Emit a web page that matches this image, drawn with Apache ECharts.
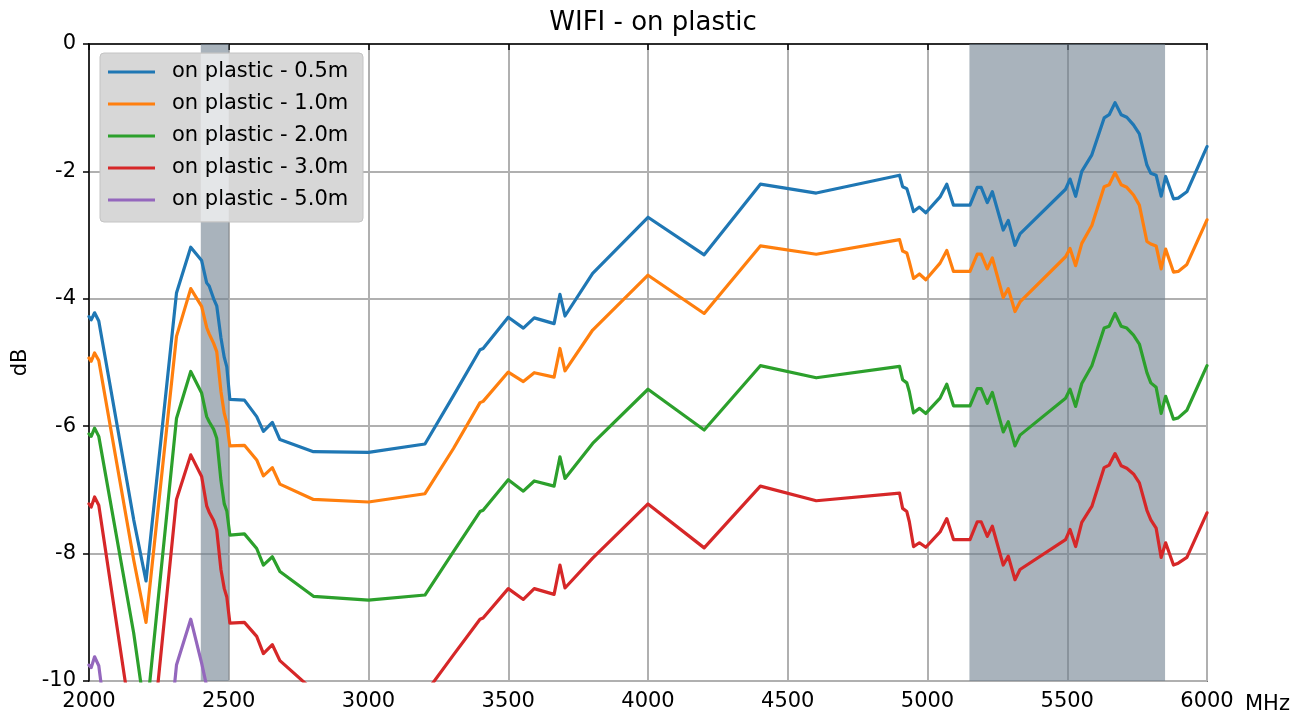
<!DOCTYPE html>
<html>
<head>
<meta charset="utf-8">
<script src="https://cdn.jsdelivr.net/npm/echarts@6/dist/echarts.min.js"></script>
<style>
html,body{margin:0;padding:0;background:#fff;}
#chart{width:1305px;height:720px;}
</style>
</head>
<body>
<div id="chart"></div>
<script>
const titleText = 'WIFI - on plastic';
const xUnit = 'MHz';
const seriesNames = ['on plastic - 0.5m','on plastic - 1.0m','on plastic - 2.0m','on plastic - 3.0m','on plastic - 5.0m'];
const seriesColors = ['#1f77b4','#ff7f0e','#2ca02c','#d62728','#9467bd'];
const bands = [[2400, 2500], [5150, 5850]];
const xTicks = [2000, 2500, 3000, 3500, 4000, 4500, 5000, 5500, 6000];

const freq = [2000, 2008, 2020, 2035, 2160, 2204, 2313, 2364, 2403, 2421,
  2430, 2446, 2457, 2472, 2484, 2493, 2504, 2556, 2600, 2624,
  2656, 2683, 2803, 3000, 3202, 3304, 3399, 3410, 3500, 3554,
  3593, 3664, 3685, 3703, 3802, 4000, 4201, 4402, 4602, 4900,
  4911, 4926, 4935, 4950, 4971, 4994, 5045, 5069, 5093, 5152,
  5178, 5192, 5214, 5232, 5271, 5289, 5313, 5331, 5494, 5510,
  5530, 5552, 5588, 5632, 5650, 5671, 5693, 5713, 5737, 5758,
  5785, 5799, 5818, 5836, 5852, 5880, 5897, 5928, 6000];

const d05 = [-4.28, -4.33, -4.22, -4.35, -7.47, -8.43, -3.91, -3.19, -3.40, -3.75,
  -3.80, -4.00, -4.11, -4.61, -4.92, -5.07, -5.58, -5.59, -5.85, -6.08,
  -5.94, -6.21, -6.40, -6.41, -6.28, -5.52, -4.80, -4.78, -4.29, -4.46,
  -4.30, -4.39, -3.93, -4.27, -3.60, -2.72, -3.31, -2.20, -2.34, -2.06,
  -2.24, -2.27, -2.40, -2.63, -2.56, -2.65, -2.40, -2.20, -2.53, -2.53,
  -2.25, -2.25, -2.49, -2.32, -2.92, -2.77, -3.16, -2.98, -2.28, -2.12,
  -2.39, -2.00, -1.74, -1.16, -1.11, -0.92, -1.11, -1.15, -1.27, -1.41,
  -1.90, -2.03, -2.06, -2.39, -2.08, -2.43, -2.42, -2.32, -1.61];

const d10 = [-4.93, -4.98, -4.85, -4.97, -8.10, -9.08, -4.59, -3.84, -4.12, -4.45,
  -4.55, -4.70, -4.83, -5.45, -5.80, -5.95, -6.31, -6.30, -6.53, -6.78,
  -6.65, -6.91, -7.15, -7.19, -7.06, -6.35, -5.63, -5.61, -5.15, -5.30,
  -5.16, -5.23, -4.78, -5.13, -4.49, -3.63, -4.23, -3.17, -3.30, -3.07,
  -3.25, -3.28, -3.42, -3.68, -3.61, -3.70, -3.44, -3.24, -3.57, -3.57,
  -3.30, -3.30, -3.53, -3.36, -3.98, -3.84, -4.20, -4.05, -3.34, -3.21,
  -3.48, -3.13, -2.85, -2.24, -2.21, -2.02, -2.21, -2.25, -2.37, -2.53,
  -3.10, -3.14, -3.17, -3.53, -3.22, -3.58, -3.57, -3.46, -2.76];

const d20 = [-6.12, -6.16, -6.03, -6.16, -9.25, -10.6, -5.88, -5.14, -5.48, -5.85,
  -5.93, -6.05, -6.19, -6.85, -7.22, -7.33, -7.71, -7.69, -7.92, -8.18,
  -8.05, -8.28, -8.67, -8.73, -8.65, -7.97, -7.34, -7.32, -6.84, -7.02,
  -6.86, -6.94, -6.48, -6.82, -6.27, -5.42, -6.06, -5.05, -5.24, -5.06,
  -5.27, -5.32, -5.46, -5.79, -5.72, -5.80, -5.56, -5.34, -5.68, -5.68,
  -5.41, -5.41, -5.64, -5.47, -6.09, -5.93, -6.31, -6.14, -5.56, -5.42,
  -5.69, -5.33, -5.05, -4.46, -4.43, -4.23, -4.43, -4.46, -4.57, -4.71,
  -5.16, -5.32, -5.39, -5.80, -5.53, -5.89, -5.87, -5.75, -5.05];

const d30 = [-7.22, -7.27, -7.11, -7.24, -10.9, -11.9, -7.15, -6.45, -6.79, -7.25,
  -7.35, -7.48, -7.63, -8.25, -8.55, -8.68, -9.09, -9.08, -9.30, -9.57,
  -9.43, -9.68, -10.15, -10.27, -10.2, -9.59, -9.03, -9.01, -8.55, -8.72,
  -8.55, -8.64, -8.18, -8.54, -8.07, -7.22, -7.91, -6.94, -7.17, -7.05,
  -7.29, -7.34, -7.50, -7.89, -7.83, -7.90, -7.66, -7.45, -7.78, -7.78,
  -7.50, -7.50, -7.73, -7.57, -8.18, -8.04, -8.41, -8.25, -7.78, -7.62,
  -7.89, -7.51, -7.26, -6.65, -6.61, -6.43, -6.62, -6.66, -6.75, -6.89,
  -7.32, -7.47, -7.60, -8.06, -7.83, -8.18, -8.15, -8.06, -7.36];

const d50 = [-9.75, -9.79, -9.62, -9.76, -14.0, -14.6, -9.75, -9.03, -9.72, -10.08,
  -10.25, -10.4, -10.5, -11.1, -11.5, -11.6, -12.0];

const allData = [d05, d10, d20, d30, d50];

const chart = echarts.init(document.getElementById('chart'), null, {renderer: 'canvas'});
const FONT = 'DejaVu Sans';

const series = allData.map((vals, si) => ({
  name: seriesNames[si],
  type: 'line',
  data: vals.map((v, i) => [freq[i], v]),
  showSymbol: false,
  symbol: 'none',
  clip: true,
  lineStyle: {width: 3.2, color: seriesColors[si], join: 'round', cap: 'round'},
  itemStyle: {color: seriesColors[si]},
  z: 2,
  markArea: si === 0 ? {
    silent: true,
    itemStyle: {color: 'rgba(112,128,144,0.6)'},
    data: bands.map(b => [{xAxis: b[0]}, {xAxis: b[1]}])
  } : undefined
}));

chart.setOption({
  animation: false,
  backgroundColor: '#ffffff',
  textStyle: {fontFamily: FONT},
  title: {
    text: titleText,
    left: 648, top: 5, textAlign: 'center',
    textStyle: {fontFamily: FONT, fontSize: 26, fontWeight: 'normal', color: '#000'}
  },
  grid: {
    left: 89, right: 98, top: 44, bottom: 39,
    containLabel: false,
    outerBoundsMode: 'none',
    show: true, borderColor: '#000', borderWidth: 1.5, backgroundColor: 'transparent'
  },
  legend: {
    orient: 'vertical',
    left: 108, top: 60,
    padding: 0,
    itemWidth: 47, itemHeight: 3,
    itemGap: 8,
    icon: 'rect',
    backgroundColor: 'transparent',
    data: seriesNames,
    textStyle: {fontFamily: FONT, fontSize: 21, color: '#000', lineHeight: 24, padding: [0, 0, 0, 12]},
    z: 10
  },
  xAxis: {
    type: 'value', min: 2000, max: 6000, interval: 500,
    axisLine: {show: true, lineStyle: {color: '#000', width: 1.5}},
    axisTick: {show: true, inside: false, length: 6, lineStyle: {color: '#000', width: 1.5}},
    axisLabel: {fontFamily: FONT, fontSize: 21, color: '#000', margin: 10,
      formatter: v => xTicks.includes(v) ? String(v) : ''},
    splitLine: {show: true, lineStyle: {color: '#b0b0b0', width: 2}}
  },
  yAxis: {
    type: 'value', min: -10, max: 0, interval: 2,
    name: 'dB', nameLocation: 'middle', nameGap: 58, nameRotate: 90,
    nameTextStyle: {fontFamily: FONT, fontSize: 21, color: '#000'},
    axisLine: {show: true, lineStyle: {color: '#000', width: 1.5}},
    axisTick: {show: true, inside: false, length: 6, lineStyle: {color: '#000', width: 1.5}},
    axisLabel: {fontFamily: FONT, fontSize: 21, color: '#000', margin: 13},
    splitLine: {show: true, lineStyle: {color: '#b0b0b0', width: 2}}
  },
  series: series
});

// legend frame drawn behind legend entries, with the band showing through lighter
const bx0 = chart.convertToPixel({xAxisIndex: 0}, bands[0][0]);
const bx1 = chart.convertToPixel({xAxisIndex: 0}, bands[0][1]);
const axEnd = chart.convertToPixel({xAxisIndex: 0}, 6000);
const axBottom = chart.convertToPixel({yAxisIndex: 0}, -10);
const lgX = 100, lgY = 53, lgW = 263, lgH = 169;
chart.setOption({
  graphic: [
    {type: 'rect', z: 5, silent: true,
      shape: {x: lgX, y: lgY, width: lgW, height: lgH, r: 4},
      style: {fill: '#d7d7d7', stroke: '#c4c4c4', lineWidth: 1}},
    {type: 'rect', z: 6, silent: true,
      shape: {x: bx0, y: lgY + 1, width: bx1 - bx0, height: lgH - 2},
      style: {fill: '#e4e6e8'}},
    {type: 'text', z: 6, silent: true,
      x: axEnd + 38, y: axBottom + 24,
      style: {text: xUnit, fontFamily: FONT, fontSize: 21, fill: '#000',
        textAlign: 'left', textVerticalAlign: 'middle'}}
  ]
});
</script>
</body>
</html>
